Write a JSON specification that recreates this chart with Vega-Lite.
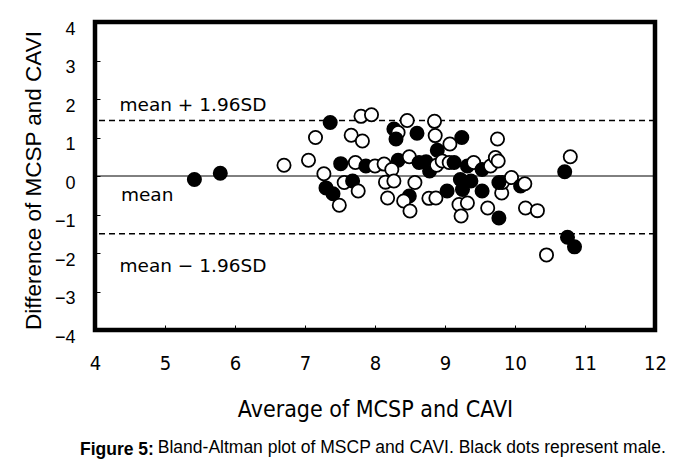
{
  "$schema": "https://vega.github.io/schema/vega-lite/v6.json",
  "autosize": "none",
  "width": 560,
  "height": 308,
  "padding": {"left": 95, "top": 22, "right": 28, "bottom": 138},
  "background": "white",
  "config": {
    "view": {"stroke": "black", "strokeWidth": 4.5},
    "axis": {"labelOverlap": false, "labelBound": false, "labelFlush": false}
  },
  "title": {
    "text": "Figure 5:",
    "subtitle": "\u200b\u00a0\u00a0\u00a0\u00a0\u00a0\u00a0\u00a0\u00a0\u00a0\u00a0\u00a0\u00a0\u00a0\u00a0\u00a0\u00a0Bland-Altman plot of MSCP and CAVI. Black dots represent male.",
    "orient": "bottom",
    "anchor": "start",
    "frame": "group",
    "dx": -15,
    "offset": 20,
    "font": "Liberation Sans",
    "fontSize": 17.5,
    "fontWeight": "bold",
    "color": "black",
    "subtitleFont": "Liberation Sans",
    "subtitleFontSize": 17.5,
    "subtitleColor": "black",
    "subtitlePadding": -20
  },
  "layer": [
    {
      "data": {"values": [{"d": 0}]},
      "mark": {"type": "rule", "color": "black", "strokeWidth": 1},
      "encoding": {
        "y": {
          "field": "d", "type": "quantitative",
          "scale": {"domain": [-4, 4], "nice": false, "zero": false},
          "axis": {
            "title": "Difference of MCSP and CAVI",
            "values": [-4, -3, -2, -1, 0, 1, 2, 3, 4],
            "format": "d",
            "grid": false, "domain": false,
            "tickSize": -5, "tickColor": "black", "tickWidth": 1,
            "labelPadding": 25, "labelOffset": 7,
            "labelFont": "Liberation Sans", "labelFontSize": 18, "labelColor": "black",
            "titleFont": "Liberation Sans", "titleFontSize": 22.5, "titleFontWeight": "normal", "titleColor": "black",
            "titlePadding": 9, "titleY": 158
          }
        }
      }
    },
    {
      "data": {"values": [{"d": 1.44}, {"d": -1.5}]},
      "mark": {"type": "rule", "color": "black", "strokeWidth": 1.5, "strokeDash": [6, 4]},
      "encoding": {
        "y": {
          "field": "d", "type": "quantitative",
          "scale": {"domain": [-4, 4], "nice": false, "zero": false},
          "axis": {
            "title": "Difference of MCSP and CAVI",
            "values": [-4, -3, -2, -1, 0, 1, 2, 3, 4],
            "format": "d",
            "grid": false, "domain": false,
            "tickSize": -5, "tickColor": "black", "tickWidth": 1,
            "labelPadding": 25, "labelOffset": 7,
            "labelFont": "Liberation Sans", "labelFontSize": 18, "labelColor": "black",
            "titleFont": "Liberation Sans", "titleFontSize": 22.5, "titleFontWeight": "normal", "titleColor": "black",
            "titlePadding": 9, "titleY": 158
          }
        }
      }
    },
    {
      "data": {"values": [
        {"a": 4.35, "d": 1.84, "label": "mean + 1.96SD"},
        {"a": 4.37, "d": -0.5, "label": "mean"},
        {"a": 4.35, "d": -2.34, "label": "mean \u2212 1.96SD"}
      ]},
      "mark": {"type": "text", "align": "left", "baseline": "middle", "font": "DejaVu Sans", "fontSize": 18.5, "color": "black"},
      "encoding": {
        "x": {
          "field": "a", "type": "quantitative",
          "scale": {"domain": [4, 12], "nice": false, "zero": false},
          "axis": {
            "title": "Average of MCSP and CAVI",
            "values": [4, 5, 6, 7, 8, 9, 10, 11, 12],
            "format": "d",
            "grid": false, "domain": false,
            "tickSize": -5, "tickColor": "black", "tickWidth": 1,
            "labelPadding": 28,
            "labelFont": "DejaVu Sans Condensed, Liberation Sans, sans-serif",
            "labelFontSize": 20, "labelColor": "black",
            "titleFont": "DejaVu Sans Condensed, Liberation Sans, sans-serif",
            "titleFontSize": 23, "titleFontWeight": "normal", "titleColor": "black",
            "titlePadding": 25
          }
        },
        "y": {
          "field": "d", "type": "quantitative",
          "scale": {"domain": [-4, 4], "nice": false, "zero": false},
          "axis": {
            "title": "Difference of MCSP and CAVI",
            "values": [-4, -3, -2, -1, 0, 1, 2, 3, 4],
            "format": "d",
            "grid": false, "domain": false,
            "tickSize": -5, "tickColor": "black", "tickWidth": 1,
            "labelPadding": 25, "labelOffset": 7,
            "labelFont": "Liberation Sans", "labelFontSize": 18, "labelColor": "black",
            "titleFont": "Liberation Sans", "titleFontSize": 22.5, "titleFontWeight": "normal", "titleColor": "black",
            "titlePadding": 9, "titleY": 158
          }
        },
        "text": {"field": "label"}
      }
    },
    {
      "data": {"values": [
        {"a": 5.42, "d": -0.09, "sex": "male"},
        {"a": 5.79, "d": 0.07, "sex": "male"},
        {"a": 6.70, "d": 0.28, "sex": "female"},
        {"a": 7.15, "d": 1.00, "sex": "female"},
        {"a": 7.36, "d": 1.39, "sex": "male"},
        {"a": 7.05, "d": 0.41, "sex": "female"},
        {"a": 7.51, "d": 0.32, "sex": "male"},
        {"a": 7.27, "d": 0.06, "sex": "female"},
        {"a": 7.30, "d": -0.31, "sex": "male"},
        {"a": 7.40, "d": -0.46, "sex": "male"},
        {"a": 7.49, "d": -0.76, "sex": "female"},
        {"a": 7.56, "d": -0.17, "sex": "female"},
        {"a": 7.80, "d": 1.55, "sex": "female"},
        {"a": 7.95, "d": 1.59, "sex": "female"},
        {"a": 8.46, "d": 1.44, "sex": "female"},
        {"a": 8.85, "d": 1.42, "sex": "female"},
        {"a": 8.27, "d": 1.22, "sex": "male"},
        {"a": 8.33, "d": 1.13, "sex": "female"},
        {"a": 8.30, "d": 0.96, "sex": "male"},
        {"a": 8.60, "d": 1.11, "sex": "male"},
        {"a": 8.86, "d": 1.05, "sex": "female"},
        {"a": 7.66, "d": 1.06, "sex": "female"},
        {"a": 7.82, "d": 0.91, "sex": "female"},
        {"a": 9.24, "d": 1.00, "sex": "male"},
        {"a": 9.07, "d": 0.83, "sex": "female"},
        {"a": 9.75, "d": 0.96, "sex": "female"},
        {"a": 8.89, "d": 0.67, "sex": "male"},
        {"a": 7.72, "d": 0.35, "sex": "female"},
        {"a": 7.87, "d": 0.26, "sex": "male"},
        {"a": 8.00, "d": 0.26, "sex": "female"},
        {"a": 8.13, "d": 0.31, "sex": "female"},
        {"a": 8.33, "d": 0.41, "sex": "male"},
        {"a": 8.49, "d": 0.50, "sex": "female"},
        {"a": 8.63, "d": 0.35, "sex": "male"},
        {"a": 8.73, "d": 0.37, "sex": "male"},
        {"a": 8.78, "d": 0.13, "sex": "male"},
        {"a": 8.88, "d": 0.28, "sex": "female"},
        {"a": 8.96, "d": 0.39, "sex": "female"},
        {"a": 9.06, "d": 0.35, "sex": "female"},
        {"a": 9.13, "d": 0.35, "sex": "male"},
        {"a": 9.32, "d": 0.26, "sex": "male"},
        {"a": 9.41, "d": 0.35, "sex": "female"},
        {"a": 9.53, "d": 0.17, "sex": "male"},
        {"a": 9.65, "d": 0.26, "sex": "female"},
        {"a": 9.72, "d": 0.48, "sex": "female"},
        {"a": 9.76, "d": 0.39, "sex": "female"},
        {"a": 8.24, "d": 0.17, "sex": "female"},
        {"a": 7.68, "d": -0.13, "sex": "male"},
        {"a": 7.76, "d": -0.39, "sex": "female"},
        {"a": 8.15, "d": -0.16, "sex": "female"},
        {"a": 8.27, "d": -0.13, "sex": "female"},
        {"a": 8.57, "d": -0.17, "sex": "female"},
        {"a": 8.18, "d": -0.57, "sex": "female"},
        {"a": 8.49, "d": -0.52, "sex": "male"},
        {"a": 8.41, "d": -0.65, "sex": "female"},
        {"a": 8.50, "d": -0.91, "sex": "female"},
        {"a": 8.77, "d": -0.58, "sex": "female"},
        {"a": 8.87, "d": -0.57, "sex": "female"},
        {"a": 9.03, "d": -0.39, "sex": "male"},
        {"a": 9.22, "d": -0.09, "sex": "male"},
        {"a": 9.37, "d": -0.13, "sex": "male"},
        {"a": 9.25, "d": -0.35, "sex": "male"},
        {"a": 9.20, "d": -0.74, "sex": "female"},
        {"a": 9.32, "d": -0.70, "sex": "female"},
        {"a": 9.23, "d": -1.04, "sex": "female"},
        {"a": 9.53, "d": -0.39, "sex": "male"},
        {"a": 9.61, "d": -0.83, "sex": "female"},
        {"a": 9.77, "d": -1.09, "sex": "male"},
        {"a": 9.81, "d": -0.44, "sex": "female"},
        {"a": 9.82, "d": -0.17, "sex": "female"},
        {"a": 10.79, "d": 0.50, "sex": "female"},
        {"a": 10.71, "d": 0.11, "sex": "male"},
        {"a": 9.77, "d": -0.17, "sex": "male"},
        {"a": 9.95, "d": -0.04, "sex": "female"},
        {"a": 10.08, "d": -0.26, "sex": "male"},
        {"a": 10.14, "d": -0.20, "sex": "female"},
        {"a": 10.15, "d": -0.83, "sex": "female"},
        {"a": 10.32, "d": -0.90, "sex": "female"},
        {"a": 10.75, "d": -1.59, "sex": "male"},
        {"a": 10.85, "d": -1.84, "sex": "male"},
        {"a": 10.45, "d": -2.05, "sex": "female"}
      ]},
      "mark": {"type": "point", "shape": "circle", "filled": true, "size": 175, "stroke": "black", "strokeWidth": 1.8, "opacity": 1},
      "encoding": {
        "x": {
          "field": "a", "type": "quantitative",
          "scale": {"domain": [4, 12], "nice": false, "zero": false},
          "axis": {
            "title": "Average of MCSP and CAVI",
            "values": [4, 5, 6, 7, 8, 9, 10, 11, 12],
            "format": "d",
            "grid": false, "domain": false,
            "tickSize": -5, "tickColor": "black", "tickWidth": 1,
            "labelPadding": 28,
            "labelFont": "DejaVu Sans Condensed, Liberation Sans, sans-serif",
            "labelFontSize": 20, "labelColor": "black",
            "titleFont": "DejaVu Sans Condensed, Liberation Sans, sans-serif",
            "titleFontSize": 23, "titleFontWeight": "normal", "titleColor": "black",
            "titlePadding": 25
          }
        },
        "y": {
          "field": "d", "type": "quantitative",
          "scale": {"domain": [-4, 4], "nice": false, "zero": false},
          "axis": {
            "title": "Difference of MCSP and CAVI",
            "values": [-4, -3, -2, -1, 0, 1, 2, 3, 4],
            "format": "d",
            "grid": false, "domain": false,
            "tickSize": -5, "tickColor": "black", "tickWidth": 1,
            "labelPadding": 25, "labelOffset": 7,
            "labelFont": "Liberation Sans", "labelFontSize": 18, "labelColor": "black",
            "titleFont": "Liberation Sans", "titleFontSize": 22.5, "titleFontWeight": "normal", "titleColor": "black",
            "titlePadding": 9, "titleY": 158
          }
        },
        "fill": {
          "field": "sex", "type": "nominal",
          "scale": {"domain": ["female", "male"], "range": ["white", "black"]},
          "legend": null
        }
      }
    }
  ]
}
